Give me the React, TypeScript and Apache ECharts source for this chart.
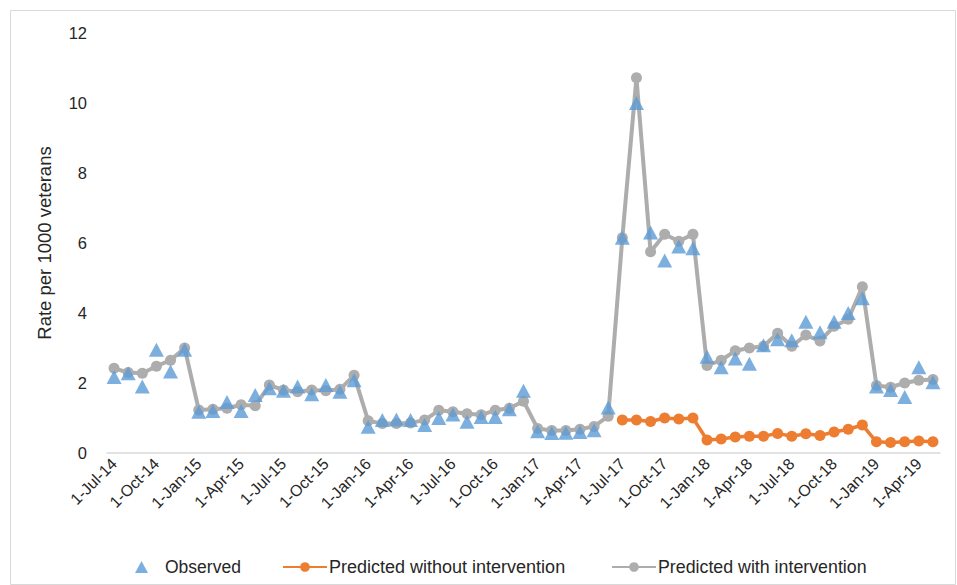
import React, { useEffect, useRef } from "react";
import * as echarts from "echarts";

const categories = [
  "1-Jul-14","1-Aug-14","1-Sep-14","1-Oct-14","1-Nov-14","1-Dec-14",
  "1-Jan-15","1-Feb-15","1-Mar-15","1-Apr-15","1-May-15","1-Jun-15","1-Jul-15","1-Aug-15","1-Sep-15","1-Oct-15","1-Nov-15","1-Dec-15",
  "1-Jan-16","1-Feb-16","1-Mar-16","1-Apr-16","1-May-16","1-Jun-16","1-Jul-16","1-Aug-16","1-Sep-16","1-Oct-16","1-Nov-16","1-Dec-16",
  "1-Jan-17","1-Feb-17","1-Mar-17","1-Apr-17","1-May-17","1-Jun-17","1-Jul-17","1-Aug-17","1-Sep-17","1-Oct-17","1-Nov-17","1-Dec-17",
  "1-Jan-18","1-Feb-18","1-Mar-18","1-Apr-18","1-May-18","1-Jun-18","1-Jul-18","1-Aug-18","1-Sep-18","1-Oct-18","1-Nov-18","1-Dec-18",
  "1-Jan-19","1-Feb-19","1-Mar-19","1-Apr-19","1-May-19",
];

const observed = [
  2.17, 2.28, 1.9, 2.95, 2.33, 2.95,
  1.18, 1.2, 1.46, 1.2, 1.66, 1.85, 1.78, 1.9, 1.68, 1.94, 1.75, 2.08,
  0.75, 0.94, 0.96, 0.94, 0.8, 1.0, 1.1, 0.89, 1.03, 1.03, 1.25, 1.78,
  0.62, 0.57, 0.58, 0.6, 0.65, 1.3, 6.15, 10.0, 6.3, 5.5, 5.9, 5.85,
  2.75, 2.45, 2.7, 2.55, 3.08, 3.25, 3.22, 3.75, 3.45, 3.75, 4.0, 4.42,
  1.9, 1.8, 1.6, 2.45, 2.02,
];

const predictedWith = [
  2.42, 2.3, 2.28, 2.48, 2.65, 3.0,
  1.23, 1.25, 1.28, 1.38, 1.35, 1.94, 1.8, 1.75, 1.8, 1.78, 1.82, 2.22,
  0.92, 0.84, 0.84, 0.86, 0.94, 1.22, 1.18, 1.12, 1.09, 1.22, 1.28, 1.48,
  0.7, 0.64, 0.64, 0.68, 0.76, 1.05, 6.15, 10.72, 5.75, 6.25, 6.05, 6.25,
  2.5, 2.65, 2.92, 3.0, 3.05, 3.42, 3.05, 3.37, 3.2, 3.62, 3.82, 4.75,
  1.93, 1.88, 2.0, 2.08, 2.1,
];

const predictedWithout = [
  null, null, null, null, null, null,
  null, null, null, null, null, null, null, null, null, null, null, null,
  null, null, null, null, null, null, null, null, null, null, null, null,
  null, null, null, null, null, null, 0.94, 0.94, 0.9, 1.0, 0.97, 1.0,
  0.37, 0.4, 0.46, 0.48, 0.48, 0.56, 0.48, 0.55, 0.5, 0.6, 0.68, 0.8,
  0.32, 0.3, 0.32, 0.34, 0.32,
];

const yTicks = { min: 0, max: 12, interval: 2 };

const FONT = "Liberation Sans";
const TEXT = "#262626";

export default function App() {
  const ref = useRef<HTMLDivElement>(null);
  useEffect(() => {
    if (!ref.current) return;
    const chart = echarts.init(ref.current, undefined, { renderer: "svg" });
    chart.setOption({
      animation: false,
      backgroundColor: "#ffffff",
      textStyle: { fontFamily: FONT, color: TEXT },
      graphic: [
        {
          type: "rect",
          shape: { x: 10.5, y: 10.5, width: 945, height: 574 },
          style: { fill: "none", stroke: "#d9d9d9", lineWidth: 1 },
          silent: true,
        },
      ],
      grid: { left: 107, right: 17, top: 33, bottom: 132 },
      legend: [
        {
          data: [{ name: "Observed", icon: "triangle" }],
          left: 130,
          top: 553,
          itemWidth: 13,
          itemHeight: 12,
          textStyle: { fontSize: 17.5, fontFamily: FONT, color: TEXT, padding: [0, 0, 0, 12] },
        },
        {
          data: ["Predicted without intervention"],
          left: 277,
          top: 553,
          itemWidth: 44,
          itemHeight: 12,
          textStyle: { fontSize: 18, fontFamily: FONT, color: TEXT, padding: [0, 0, 0, -3] },
        },
        {
          data: ["Predicted with intervention"],
          left: 606,
          top: 553,
          itemWidth: 44,
          itemHeight: 12,
          textStyle: { fontSize: 17.8, fontFamily: FONT, color: TEXT, padding: [0, 0, 0, -3] },
        },
      ],
      xAxis: {
        type: "category",
        data: categories,
        boundaryGap: true,
        axisLine: { lineStyle: { color: "#d9d9d9", width: 1.5 } },
        axisTick: { interval: 2, length: 6, lineStyle: { color: "#d9d9d9", width: 1.5 } },
        axisLabel: {
          interval: 2,
          rotate: 45,
          fontSize: 16,
          fontFamily: FONT,
          color: TEXT,
          margin: 8,
        },
        splitLine: { show: false },
      },
      yAxis: {
        type: "value",
        min: yTicks.min,
        max: yTicks.max,
        interval: yTicks.interval,
        name: "Rate per 1000 veterans",
        nameLocation: "middle",
        nameGap: 53,
        nameTextStyle: { fontSize: 18.5, fontFamily: FONT, color: TEXT },
        axisLine: { show: false },
        axisTick: { show: false },
        splitLine: { show: false },
        axisLabel: { fontSize: 16.5, fontFamily: FONT, color: TEXT, margin: 20 },
      },
      series: [
        {
          name: "Predicted with intervention",
          type: "line",
          data: predictedWith,
          symbol: "circle",
          symbolSize: 11,
          showAllSymbol: true,
          lineStyle: { color: "#ADADAD", width: 4 },
          itemStyle: { color: "#ADADAD" },
          z: 2,
        },
        {
          name: "Predicted without intervention",
          type: "line",
          data: predictedWithout,
          symbol: "circle",
          symbolSize: 11,
          showAllSymbol: true,
          connectNulls: false,
          lineStyle: { color: "#ED7D31", width: 3.5 },
          itemStyle: { color: "#ED7D31" },
          z: 3,
        },
        {
          name: "Observed",
          type: "scatter",
          data: observed,
          symbol: "triangle",
          symbolSize: [15, 14],
          itemStyle: { color: "#5B9BD5" },
          z: 4,
        },
      ],
    });
    return () => chart.dispose();
  }, []);
  return (
    <div
      ref={ref}
      style={{ position: "fixed", left: 0, top: 0, width: 957, height: 585 }}
    />
  );
}
